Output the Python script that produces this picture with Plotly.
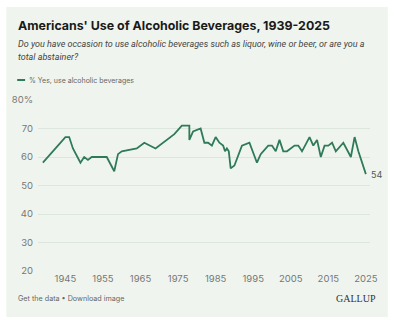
import plotly.graph_objects as go

years = [1939, 1945, 1946, 1947, 1949, 1950, 1951, 1952, 1956, 1958, 1959, 1960, 1964, 1966,
         1969, 1970, 1974, 1976, 1978, 1978, 1979, 1981, 1982, 1983, 1984, 1985, 1986, 1987,
         1987.5, 1988, 1988.5, 1989, 1990, 1992, 1994, 1996, 1997, 1999, 2000, 2001, 2002,
         2003, 2004, 2006, 2007, 2008, 2010, 2011, 2012, 2013, 2014, 2015, 2016, 2017, 2019,
         2021, 2022, 2023, 2024, 2025]
pct_yes = [58, 67, 67, 63, 58, 60, 59, 60, 60, 55, 61, 62, 63, 65,
           63, 64, 68, 71, 71, 66, 69, 70, 65, 65, 64, 67, 65, 64,
           62, 63, 62, 56, 57, 64, 65, 58, 61, 64, 64, 62, 66,
           62, 62, 64, 64, 62, 67, 64, 66, 60, 64, 64, 65, 62, 65,
           60, 67, 62, 58, 54]
x_ticks = [1945, 1955, 1965, 1975, 1985, 1995, 2005, 2015, 2025]
y_ticks = [20, 30, 40, 50, 60, 70, 80]
y_tick_text = ["20", "30", "40", "50", "60", "70", "80%"]

W, H = 393, 321
L, R, T, B = 35, 370, 100, 271


def px(x):
    return (x - L) / (R - L)


def py(y):
    return (B - y) / (B - T)


LINE = "#2f7a58"
fig = go.Figure()
fig.add_trace(go.Scatter(x=years, y=pct_yes, mode="lines",
                         line=dict(color=LINE, width=1.8), showlegend=False,
                         name="% Yes, use alcoholic beverages"))

SUB = dict(size=9, color="#444", family="Roboto, sans-serif")
fig.update_layout(
    width=W, height=H,
    margin=dict(l=L, r=W - R, t=T, b=H - B, pad=0),
    paper_bgcolor="white",
    plot_bgcolor="rgba(0,0,0,0)",
    font=dict(family="Inter, Roboto, sans-serif", color="#777"),
    xaxis=dict(range=[1937.7, 2026.1], tickvals=x_ticks, showgrid=False, zeroline=False,
               showline=False, ticks="", tickfont=dict(size=9.5, color="#777")),
    yaxis=dict(range=[20, 80], tickvals=y_ticks, ticktext=y_tick_text, showgrid=True,
               gridcolor="#dde6dc", gridwidth=1, zeroline=False, showline=False, ticks="",
               tickfont=dict(size=9.5, color="#777"), ticklabelstandoff=4),
    shapes=[
        dict(type="rect", xref="paper", yref="paper", x0=px(3), x1=px(388), y0=py(317), y1=py(7),
             fillcolor="#eff5ee", line=dict(width=0), layer="below"),
        dict(type="line", xref="paper", yref="paper", x0=px(14), x1=px(22), y0=py(80), y1=py(80),
             line=dict(color=LINE, width=2)),
    ],
    annotations=[
        dict(text="<b>Americans' Use of Alcoholic Beverages, 1939-2025</b>", xref="paper", yref="paper",
             x=px(13), y=py(25), xanchor="left", yanchor="middle", showarrow=False,
             font=dict(size=12.4, color="#1a1a1a")),
        dict(text="<i>Do you have occasion to use alcoholic beverages such as liquor, wine or beer, or are you a</i>",
             xref="paper", yref="paper", x=px(13), y=py(44), xanchor="left", yanchor="middle",
             showarrow=False, font=SUB),
        dict(text="<i>total abstainer?</i>",
             xref="paper", yref="paper", x=px(13), y=py(57), xanchor="left", yanchor="middle",
             showarrow=False, font=SUB),
        dict(text="% Yes, use alcoholic beverages", xref="paper", yref="paper", x=px(24), y=py(80),
             xanchor="left", yanchor="middle", showarrow=False, font=dict(size=7, color="#666")),
        dict(text="54", x=2025, y=54, xanchor="left", yanchor="middle", xshift=3, showarrow=False,
             font=dict(size=9, color="#555")),
        dict(text="Get the data • Download image", xref="paper", yref="paper", x=px(13), y=py(298),
             xanchor="left", yanchor="middle", showarrow=False, font=dict(size=7.2, color="#666")),
        dict(text="GALLUP", xref="paper", yref="paper", x=px(378), y=py(298),
             xanchor="right", yanchor="middle", showarrow=False,
             font=dict(size=10, color="#333", family="Liberation Serif, DejaVu Serif, serif")),
    ],
)

fig.write_html("out.html")
